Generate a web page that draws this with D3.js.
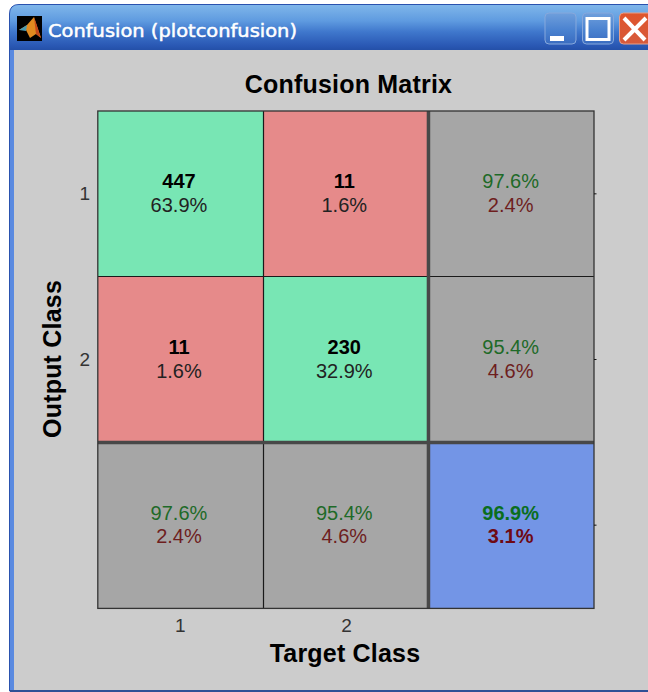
<!DOCTYPE html>
<html><head><meta charset="utf-8">
<script src="https://cdn.jsdelivr.net/npm/d3@7"></script>
<style>html,body{margin:0;padding:0;background:#fff}svg{display:block}</style>
</head><body><svg id="c" width="648" height="692"></svg>
<script>
const windowTitle = "Confusion (plotconfusion)";
const chartTitle = "Confusion Matrix";
const xLabel = "Target Class";
const yLabel = "Output Class";
const classLabels = ["1","2"];
const counts = [447, 11, 11, 230];
const countPct = ["63.9%","1.6%","1.6%","32.9%"];
const correct = [true,false,false,true];
const rowGood = ["97.6%","95.4%"], rowBad = ["2.4%","4.6%"];
const colGood = ["97.6%","95.4%"], colBad = ["2.4%","4.6%"];
const totalGood = "96.9%", totalBad = "3.1%";

const svg = d3.select("#c");
const F = "Arial, 'Liberation Sans', sans-serif";
const defs = svg.append("defs");
const tg = defs.append("linearGradient").attr("id","tb").attr("x1",0).attr("x2",0).attr("y1",0).attr("y2",1);
[[0,"#7fb6ea"],[.35,"#5f9be0"],[.6,"#3f77cc"],[.9,"#2a58b4"],[1,"#2450a8"]].forEach(d=>tg.append("stop").attr("offset",d[0]).attr("stop-color",d[1]));
const bg = defs.append("linearGradient").attr("id","btn").attr("x1",0).attr("x2",0).attr("y1",0).attr("y2",1);
[[0,"#6f9fdc"],[.55,"#4a82d0"],[1,"#3a6cc0"]].forEach(d=>bg.append("stop").attr("offset",d[0]).attr("stop-color",d[1]));
const cg = defs.append("linearGradient").attr("id","cls").attr("x1",0).attr("x2",0).attr("y1",0).attr("y2",1);
[[0,"#e0552c"],[1,"#d65a3c"]].forEach(d=>cg.append("stop").attr("offset",d[0]).attr("stop-color",d[1]));

// window frame
svg.append("path").attr("d","M9.5,691 V14 Q9.5,4.5 19,4.5 H648 V691 Z").attr("fill","#3f6fd0").attr("stroke","#2a52ae").attr("stroke-width",1);
svg.append("path").attr("d","M10,50 V14 Q10,5 19,5 H648 V50 Z").attr("fill","url(#tb)");
svg.append("rect").attr("x",14).attr("y",50).attr("width",634).attr("height",640).attr("fill","#cccccc");
svg.append("rect").attr("x",10).attr("y",50).attr("width",4).attr("height",641).attr("fill","#5a8ae0");
svg.append("rect").attr("x",10).attr("y",690).attr("width",638).attr("height",2).attr("fill","#2f4f96");

// icon
svg.append("rect").attr("x",17).attr("y",16).attr("width",25).attr("height",25).attr("fill","#000");
svg.append("path").attr("d","M19,30 L27,25 L34,17 L41,38 L36,34 L30,38 L26,30 Z").attr("fill","#e08a20");
svg.append("path").attr("d","M34,17 L41,38 L36,34 Z").attr("fill","#c4481a");
svg.append("path").attr("d","M19,30 L27,25 L26,31 Z").attr("fill","#4a9ab0");

svg.append("text").attr("x",48).attr("y",36.5).attr("font-family","'DejaVu Sans'").attr("font-size",18)
  .attr("stroke","#fff").attr("stroke-width",.5)
  .attr("textLength",249).attr("lengthAdjust","spacingAndGlyphs").attr("fill","#fff").text(windowTitle);

// window buttons
svg.append("rect").attr("x",545).attr("y",13).attr("width",31).attr("height",31).attr("rx",4).attr("fill","url(#btn)").attr("stroke","#86a8dc");
svg.append("rect").attr("x",550).attr("y",36).attr("width",14).attr("height",5).attr("fill","#fff");
svg.append("rect").attr("x",582.5).attr("y",13).attr("width",31).attr("height",31).attr("rx",4).attr("fill","url(#btn)").attr("stroke","#86a8dc");
svg.append("rect").attr("x",587).attr("y",18.5).attr("width",22).attr("height",21).attr("fill","none").attr("stroke","#fff").attr("stroke-width",3);
svg.append("rect").attr("x",619.5).attr("y",13).attr("width",40).attr("height",31).attr("rx",4).attr("fill","url(#cls)").attr("stroke","#e8a088");
svg.append("path").attr("d","M624,18 L645,40 M646,18 L624,40").attr("stroke","#fff").attr("stroke-width",4).attr("fill","none");

// plot
const cols = [0,1,2];
const x = d3.scaleBand().domain(cols).range([98,594]);
const y = d3.scaleBand().domain(cols).range([111,608]);
const GREEN="#78e6b4", RED="#e68a8a", GRAY="#a6a6a6", BLUE="#7395e6";
const cells=[];
classLabels.forEach((_,r)=>classLabels.forEach((_,c)=>{
  const i=r*2+c;
  cells.push({r,c,fill:correct[i]?GREEN:RED,a:String(counts[i]),b:countPct[i],ca:"#000",cb:"#222",boldA:true,boldB:false});
}));
classLabels.forEach((_,r)=>cells.push({r,c:2,fill:GRAY,a:rowGood[r],b:rowBad[r],ca:"#1e6a28",cb:"#6e1e1e",boldA:false,boldB:false}));
classLabels.forEach((_,c)=>cells.push({r:2,c,fill:GRAY,a:colGood[c],b:colBad[c],ca:"#1e6a28",cb:"#6e1e1e",boldA:false,boldB:false}));
cells.push({r:2,c:2,fill:BLUE,a:totalGood,b:totalBad,ca:"#0a6e1e",cb:"#6e0a14",boldA:true,boldB:true});

const g=svg.append("g");
g.selectAll("rect").data(cells).join("rect")
 .attr("x",d=>x(d.c)).attr("y",d=>y(d.r)).attr("width",x.bandwidth()).attr("height",y.bandwidth()).attr("fill",d=>d.fill);

// grid lines
const px=v=>Math.floor(v)+.5;
const gl=svg.append("g");
gl.append("line").attr("x1",px(x(1))).attr("x2",px(x(1))).attr("y1",111).attr("y2",608).attr("stroke","#1a1a1a").attr("stroke-width",1.2);
gl.append("line").attr("y1",px(y(1))).attr("y2",px(y(1))).attr("x1",98).attr("x2",594).attr("stroke","#1a1a1a").attr("stroke-width",1.2);
gl.append("line").attr("x1",x(2)-.2).attr("x2",x(2)-.2).attr("y1",111).attr("y2",608).attr("stroke","#484848").attr("stroke-width",3.5);
gl.append("line").attr("y1",y(2)+.2).attr("y2",y(2)+.2).attr("x1",98).attr("x2",594).attr("stroke","#484848").attr("stroke-width",3.5);
svg.append("rect").attr("x",97.8).attr("y",111).attr("width",496.2).attr("height",497.4).attr("fill","none").attr("stroke","#333").attr("stroke-width",1.3);

// cell text
const cx=d=>x(d.c)+x.bandwidth()/2+(d.c===2?-.7:-1.7);
const t=svg.append("g").attr("font-family",F).attr("text-anchor","middle").attr("font-size",20);
t.selectAll(".a").data(cells).join("text").attr("class","a").attr("x",cx).attr("y",d=>y(d.r)+y.bandwidth()/2-5.5)
 .attr("fill",d=>d.ca).attr("font-weight",d=>d.boldA?"bold":"normal").text(d=>d.a);
t.selectAll(".b").data(cells).join("text").attr("class","b").attr("x",cx).attr("y",d=>y(d.r)+y.bandwidth()/2+18)
 .attr("fill",d=>d.cb).attr("font-weight",d=>d.boldB?"bold":"normal").text(d=>d.b);

// right ticks
svg.append("g").selectAll("line").data(cols).join("line").attr("x1",594).attr("x2",596.5)
  .attr("y1",d=>y(d)+y.bandwidth()/2).attr("y2",d=>y(d)+y.bandwidth()/2).attr("stroke","#111");

// tick labels
const ax=svg.append("g").attr("font-family",F).attr("font-size",19).attr("fill","#333");
ax.selectAll(".xt").data(classLabels).join("text").attr("class","xt").attr("x",(d,i)=>x(i)+x.bandwidth()/2+(i?.5:-.5)).attr("y",632).attr("text-anchor","middle").text(d=>d);
ax.selectAll(".yt").data(classLabels).join("text").attr("class","yt").attr("x",90).attr("y",(d,i)=>y(i)+y.bandwidth()/2+6).attr("text-anchor","end").text(d=>d);

// titles
const T=svg.append("g").attr("font-family",F).attr("font-weight","bold").attr("font-size",25).attr("letter-spacing",.2).attr("fill","#000").attr("text-anchor","middle");
T.append("text").attr("x",348.5).attr("y",93).text(chartTitle);
T.append("text").attr("x",345).attr("y",662).text(xLabel);
T.append("text").attr("transform","translate(61,359) rotate(-90)").text(yLabel);
</script></body></html>
